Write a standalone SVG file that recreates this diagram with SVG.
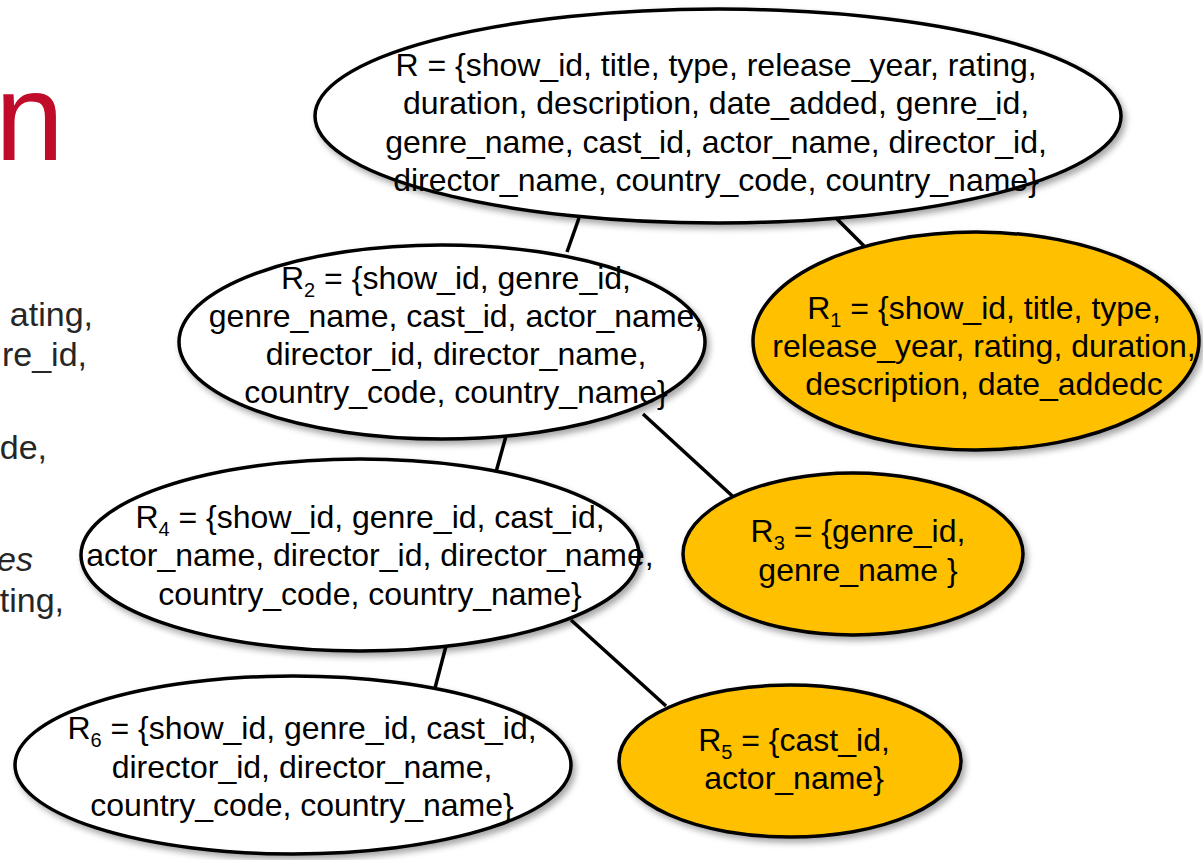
<svg xmlns="http://www.w3.org/2000/svg" width="1203" height="860" viewBox="0 0 1203 860">
  <defs>
    <filter id="shadow" x="-10%" y="-10%" width="125%" height="130%">
      <feDropShadow dx="3" dy="4" stdDeviation="3" flood-color="#000" flood-opacity="0.35"/>
    </filter>
  </defs>
  <style>
    .node ellipse { stroke: #000; stroke-width: 3.5; filter: url(#shadow); }
    .plain ellipse { fill: #fff; }
    .key ellipse { fill: #ffc000; }
    .label { font-family: "Liberation Sans", Arial, sans-serif; font-size: 32px; fill: #000; text-anchor: middle; }
    .sub { font-size: 20px; }
    .edge line { stroke: #000; stroke-width: 3.5; }
    .side { font-family: "Liberation Sans", Arial, sans-serif; font-size: 34px; fill: #262626; text-anchor: end; }
  </style>

  <!-- slide text clipped at the left margin -->
  <g id="slide-text">
    <text x="-5" y="160" font-family="Liberation Sans, Arial, sans-serif" font-size="124" fill="#c00c2a">n</text>
    <text class="side" x="93" y="326">ating,</text>
    <text class="side" x="87" y="366">re_id,</text>
    <text class="side" x="47" y="459">de,</text>
    <text class="side" x="33" y="571" font-style="italic">es</text>
    <text class="side" x="64" y="612">ting,</text>
  </g>

  <!-- decomposition tree edges -->
  <g id="connectors" class="edge">
    <line x1="579" y1="218" x2="567" y2="252"/>
    <line x1="836" y1="218" x2="864" y2="246"/>
    <line x1="506" y1="436" x2="496" y2="472"/>
    <line x1="643" y1="414" x2="740" y2="503"/>
    <line x1="446" y1="646" x2="435" y2="688"/>
    <line x1="571" y1="620" x2="666" y2="706"/>
  </g>

  <g id="R" class="node plain">
    <ellipse cx="718" cy="116" rx="403" ry="107"/>
    <text class="label" x="716" y="76">R = {show_id, title, type, release_year, rating,</text>
    <text class="label" x="716" y="114">duration, description, date_added, genre_id,</text>
    <text class="label" x="716" y="153">genre_name, cast_id, actor_name, director_id,</text>
    <text class="label" x="716" y="191">director_name, country_code, country_name}</text>
  </g>

  <g id="R2" class="node plain">
    <ellipse cx="442" cy="342" rx="263" ry="97"/>
    <text class="label" x="456" y="289">R<tspan class="sub" dy="8">2</tspan><tspan dy="-8"> = {show_id, genre_id,</tspan></text>
    <text class="label" x="456" y="327">genre_name, cast_id, actor_name,</text>
    <text class="label" x="456" y="365">director_id, director_name,</text>
    <text class="label" x="456" y="403">country_code, country_name}</text>
  </g>

  <g id="R1" class="node key">
    <ellipse cx="976" cy="341" rx="223" ry="109"/>
    <text class="label" x="984" y="319">R<tspan class="sub" dy="8">1</tspan><tspan dy="-8"> = {show_id, title, type,</tspan></text>
    <text class="label" x="984" y="357">release_year, rating, duration,</text>
    <text class="label" x="984" y="395">description, date_addedc</text>
  </g>

  <g id="R4" class="node plain">
    <ellipse cx="360" cy="555" rx="279" ry="96"/>
    <text class="label" x="370" y="528">R<tspan class="sub" dy="8">4</tspan><tspan dy="-8"> = {show_id, genre_id, cast_id,</tspan></text>
    <text class="label" x="370" y="566">actor_name, director_id, director_name,</text>
    <text class="label" x="370" y="605">country_code, country_name}</text>
  </g>

  <g id="R3" class="node key">
    <ellipse cx="853" cy="554" rx="170" ry="81"/>
    <text class="label" x="858" y="542">R<tspan class="sub" dy="8">3</tspan><tspan dy="-8"> = {genre_id,</tspan></text>
    <text class="label" x="858" y="581">genre_name }</text>
  </g>

  <g id="R6" class="node plain">
    <ellipse cx="293" cy="765" rx="278" ry="89"/>
    <text class="label" x="302" y="739">R<tspan class="sub" dy="8">6</tspan><tspan dy="-8"> = {show_id, genre_id, cast_id,</tspan></text>
    <text class="label" x="302" y="778">director_id, director_name,</text>
    <text class="label" x="302" y="816">country_code, country_name}</text>
  </g>

  <g id="R5" class="node key">
    <ellipse cx="790" cy="761" rx="171" ry="76"/>
    <text class="label" x="794" y="751">R<tspan class="sub" dy="8">5</tspan><tspan dy="-8"> = {cast_id,</tspan></text>
    <text class="label" x="794" y="789">actor_name}</text>
  </g>
</svg>
